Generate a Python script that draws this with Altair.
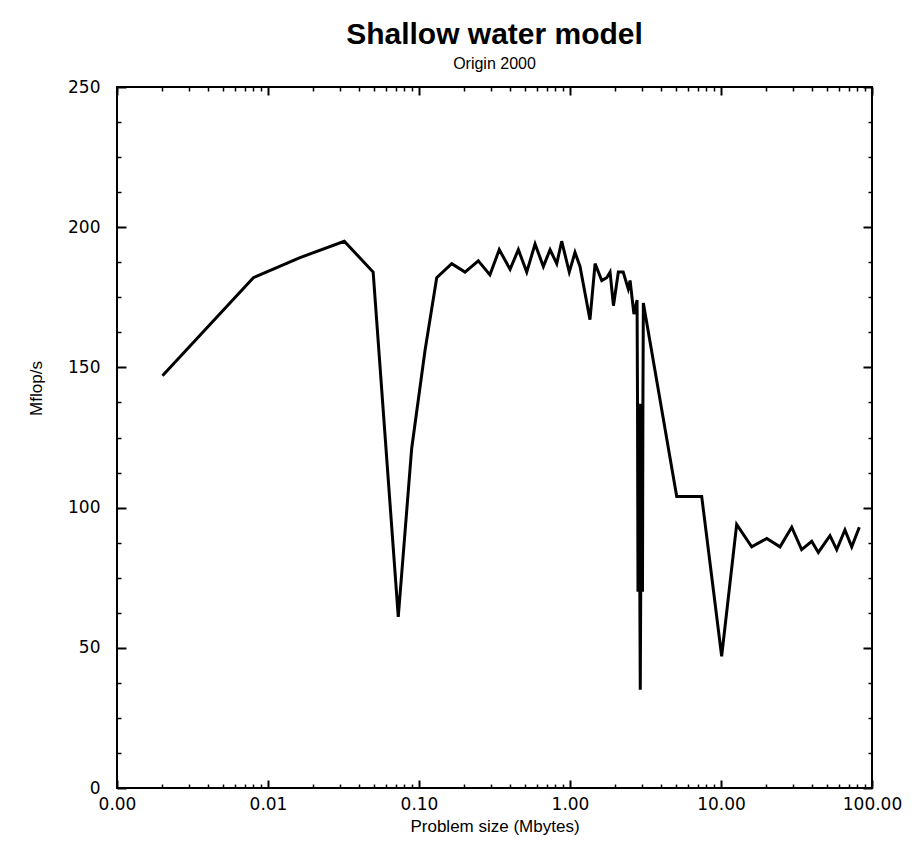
import altair as alt
import pandas as pd

size_mb = [0.002, 0.008, 0.016, 0.032, 0.0497, 0.0729, 0.0894, 0.1096, 0.131,
           0.1647, 0.2017, 0.247, 0.295, 0.340, 0.401, 0.455, 0.517, 0.587,
           0.666, 0.738, 0.817, 0.881, 0.989, 1.079, 1.165, 1.356, 1.466,
           1.623, 1.751, 1.842, 1.94, 2.09, 2.25, 2.43, 2.50, 2.65, 2.78,
           2.80, 2.82, 2.84, 2.86, 2.88, 2.90, 2.92, 2.94, 2.96, 2.98, 3.00,
           3.02, 3.04, 3.06, 5.09, 7.45, 10.1, 12.7,
           15.97, 20.1, 24.6, 29.4, 34.2, 39.9, 44.1, 52.7, 58.4, 66.2, 73.4,
           82.4]
mflops = [147, 182, 189, 195, 184, 61, 121, 156, 182,
          187, 184, 188, 183, 192, 185, 192, 184, 194,
          186, 192, 187, 195, 184, 191, 186, 167, 187,
          181, 182, 184, 172, 184, 184, 178, 181, 169, 174,
          137, 70, 137, 70, 137, 70, 35, 70, 137, 70, 137,
          70, 137, 173, 104, 104, 47, 94,
          86, 89, 86, 93, 85, 88, 84, 90, 85, 92, 86,
          93]

# axis ticks
x_major = [0.001, 0.01, 0.1, 1, 10, 100]
x_minor_mult = [2, 3, 4, 5, 6, 7, 8, 9]
x_minor = [m * d for d in x_major[:-1] for m in x_minor_mult]
y_major = [0, 50, 100, 150, 200, 250]
y_minor = [12.5 * k for k in range(1, 20) if (12.5 * k) % 50 != 0]

df = pd.DataFrame({"size": size_mb, "mflops": mflops,
                   "order": list(range(len(size_mb)))})

xscale = alt.Scale(type="log", domain=[0.001, 100], nice=False)
yscale = alt.Scale(domain=[0, 250], nice=False)

LABEL_FONT = "DejaVu Sans"
TEXT_FONT = "Liberation Sans"


def tick_axis(orient, values, size, width, **kw):
    return alt.Axis(orient=orient, values=values, tickSize=size, offset=-size,
                    domain=False, grid=False, tickColor="black",
                    tickWidth=width, **kw)


x_main = tick_axis("bottom", x_major, 8, 2, format=".2f", labelPadding=8,
                   labelFont=LABEL_FONT, labelFontSize=17, labelColor="black",
                   labelFlush=False, labelOverlap=False,
                   title="Problem size (Mbytes)", titleFont=TEXT_FONT,
                   titleFontSize=17, titleFontWeight="normal",
                   titleColor="black", titleY=38)
y_main = tick_axis("left", y_major, 9, 2, labelPadding=17,
                   labelFont=LABEL_FONT, labelFontSize=17, labelColor="black",
                   labelOverlap=False,
                   title="Mflop/s", titleFont=TEXT_FONT, titleFontSize=17,
                   titleFontWeight="normal", titleColor="black",
                   titleX=-81, titleY=301)

main = alt.Chart(df).mark_line(color="black", strokeWidth=3).encode(
    x=alt.X("size:Q", scale=xscale, axis=x_main),
    y=alt.Y("mflops:Q", scale=yscale, axis=y_main),
    order="order:Q",
)

mirror = alt.Chart(df).mark_line(opacity=0).encode(
    x=alt.X("size:Q", scale=xscale,
            axis=tick_axis("top", x_major, 8, 2, labels=False, title=None)),
    y=alt.Y("mflops:Q", scale=yscale,
            axis=tick_axis("right", y_major, 9, 2, labels=False, title=None)),
)

minor_a = alt.Chart(df).mark_line(opacity=0).encode(
    x=alt.X("size:Q", scale=xscale,
            axis=tick_axis("bottom", x_minor, 4, 1.5, labels=False, title=None)),
    y=alt.Y("mflops:Q", scale=yscale,
            axis=tick_axis("left", y_minor, 4, 1.5, labels=False, title=None)),
)

minor_b = alt.Chart(df).mark_line(opacity=0).encode(
    x=alt.X("size:Q", scale=xscale,
            axis=tick_axis("top", x_minor, 4, 1.5, labels=False, title=None)),
    y=alt.Y("mflops:Q", scale=yscale,
            axis=tick_axis("right", y_minor, 4, 1.5, labels=False, title=None)),
)

chart = alt.layer(main, mirror, minor_a, minor_b).resolve_axis(
    x="independent", y="independent"
).properties(
    width=755,
    height=701,
    padding={"left": 117, "top": 87, "right": 42, "bottom": 53},
    autosize=alt.AutoSizeParams(type="none"),
    background="white",
    title=alt.TitleParams(
        text="Shallow water model",
        subtitle="Origin 2000",
        font=TEXT_FONT, fontSize=30, fontWeight="bold", color="black",
        subtitleFont=TEXT_FONT, subtitleFontSize=16, subtitleColor="black",
        anchor="middle", frame="group", offset=6, subtitlePadding=6,
    ),
).configure_view(
    stroke="black", strokeWidth=2
)

chart.save("out.html", embed_options={"renderer": "svg", "actions": False})
